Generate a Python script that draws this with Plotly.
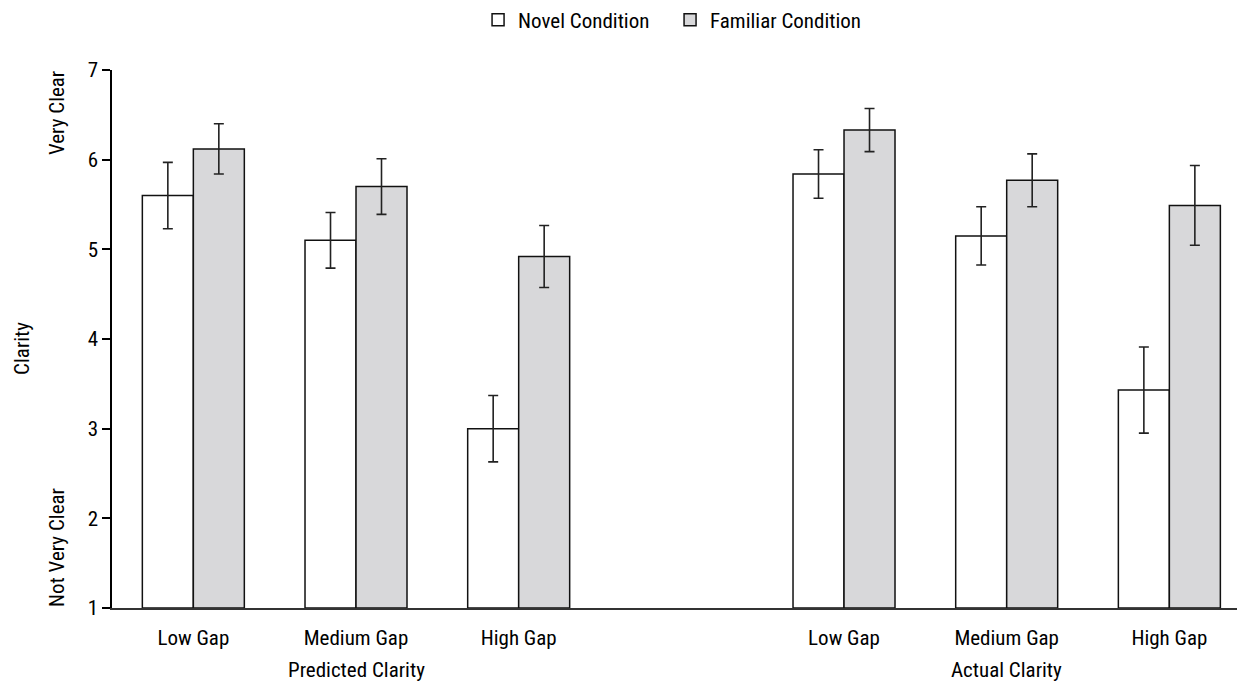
import plotly.graph_objects as go

categories = ["Low Gap", "Medium Gap", "High Gap", "Low Gap", "Medium Gap", "High Gap"]
positions = [0, 1, 2, 4, 5, 6]
groups = ["Predicted Clarity", "Actual Clarity"]
group_positions = [1, 5]

novel = [5.60, 5.10, 3.00, 5.84, 5.15, 3.43]
novel_err = [0.37, 0.31, 0.37, 0.27, 0.325, 0.48]
familiar = [6.12, 5.70, 4.92, 6.33, 5.77, 5.49]
familiar_err = [0.28, 0.31, 0.345, 0.24, 0.295, 0.445]

y_ticks = [1, 2, 3, 4, 5, 6, 7]

FONT = "Roboto Condensed, Liberation Sans Narrow, Arial Narrow, Roboto, sans-serif"
FS = 21

fig = go.Figure()
fig.add_trace(go.Bar(
    x=positions, y=[v - 1 for v in novel], base=1, name="Novel Condition",
    marker=dict(color="white", line=dict(color="#111111", width=1.5)),
    error_y=dict(type="data", array=novel_err, color="#222222", thickness=1.6, width=5),
))
fig.add_trace(go.Bar(
    x=positions, y=[v - 1 for v in familiar], base=1, name="Familiar Condition",
    marker=dict(color="#d8d8da", line=dict(color="#111111", width=1.5)),
    error_y=dict(type="data", array=familiar_err, color="#222222", thickness=1.6, width=5),
))

annotations = []
for g, p in zip(groups, group_positions):
    annotations.append(dict(x=p, y=-0.115, xref="x", yref="paper", text=g,
                            showarrow=False, font=dict(size=FS, color="black", family=FONT),
                            xanchor="center", yanchor="middle"))
annotations.append(dict(x=-0.0485, y=6.52, xref="paper", yref="y", text="Very Clear",
                        textangle=-90, showarrow=False, xanchor="center", yanchor="middle",
                        font=dict(size=FS, color="black", family=FONT)))
annotations.append(dict(x=-0.0485, y=1.67, xref="paper", yref="y", text="Not Very Clear",
                        textangle=-90, showarrow=False, xanchor="center", yanchor="middle",
                        font=dict(size=FS, color="black", family=FONT)))
annotations.append(dict(x=-0.0795, y=3.9, xref="paper", yref="y", text="Clarity",
                        textangle=-90, showarrow=False, xanchor="center", yanchor="middle",
                        font=dict(size=FS, color="black", family=FONT)))

fig.update_layout(
    width=1237, height=678,
    margin=dict(l=104, r=0, t=62, b=78, autoexpand=False),
    paper_bgcolor="white", plot_bgcolor="white",
    barmode="group", bargap=0.373, bargroupgap=0,
    font=dict(family=FONT, size=FS, color="black"),
    showlegend=True,
    legend=dict(orientation="h", x=0.38, xanchor="left", xref="container",
                y=0.982, yanchor="middle", yref="container",
                entrywidth=147, entrywidthmode="pixels",
                font=dict(size=FS, family=FONT), traceorder="normal"),
    xaxis=dict(range=[-0.5, 6.465], tickvals=positions, ticktext=categories,
               showline=True, linecolor="#333333", linewidth=1.5, ticks="",
               showgrid=False, zeroline=False, automargin=False, ticklabelstandoff=10,
               tickfont=dict(size=FS, family=FONT)),
    yaxis=dict(range=[1, 7], tickvals=y_ticks, showline=True, linecolor="black",
               linewidth=1.5, ticks="outside", ticklen=8, tickwidth=1.5, tickcolor="black",
               showgrid=False, zeroline=False, automargin=False,
               tickfont=dict(size=FS, family=FONT)),
    annotations=annotations,
)

fig.write_html("out.html")
